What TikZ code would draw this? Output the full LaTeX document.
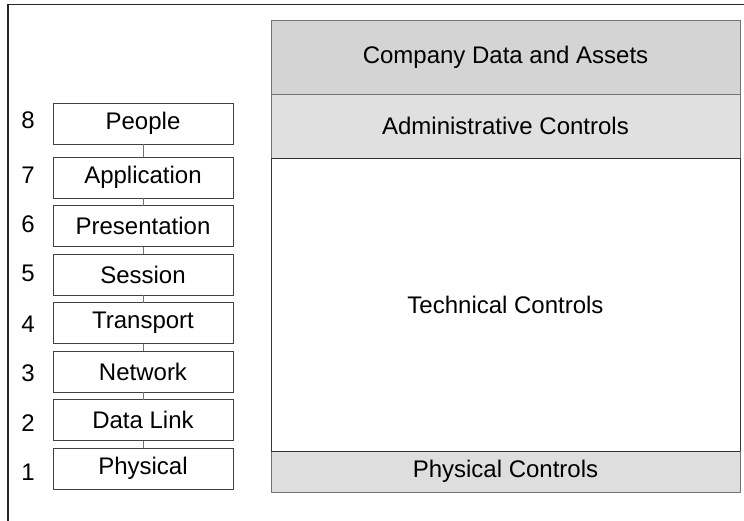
\documentclass[tikz,border=0pt]{standalone}
\usepackage{fontspec}
\setmainfont{Liberation Sans}
\usetikzlibrary{positioning}

\begin{document}
\begin{tikzpicture}[x=0.75pt,y=-0.75pt,
    txt/.style={font=\fontsize{18}{18}\selectfont},
    layer/.style={txt,draw=black!75,fill=white,minimum width=135pt,minimum height=30.75pt,inner sep=0pt,outer sep=0pt},
    ctrl/.style={txt,draw=black!55,minimum width=351.75pt,inner sep=0pt,outer sep=0pt},
    link/.style={draw=black!55}]
  \useasboundingbox (0,0) rectangle (744,521);
  % frame, open on the right and at the bottom
  \draw[line width=1.1pt,black!85] (744,4.5) -- (8,4.5) -- (8,521);

  % controls column
  \node[ctrl,fill=black!17,minimum height=55.5pt] (assets) at (505.5,57) {Company Data and Assets};
  \node[ctrl,fill=black!12,minimum height=48pt,below=0pt of assets] (admin) {Administrative Controls};
  \node[ctrl,draw=black!80,fill=white,minimum height=219.75pt,below=0pt of admin] (tech) {Technical Controls};
  \node[ctrl,fill=black!13,minimum height=30.75pt,below=0pt of tech] (phyctrl) {Physical Controls};
  \draw[black!80] (tech.south west) -- (tech.south east);

  % layers
  \node[layer] (people) at (143,123.5) {People};
  \node[layer,below=9.75pt of people] (app) {Application};
  \node[layer,below=5.625pt of app] (pres) {Presentation};
  \node[layer,below=5.625pt of pres] (sess) {Session};
  \node[layer,below=5.625pt of sess] (trans) {Transport};
  \node[layer,below=5.625pt of trans] (net) {Network};
  \node[layer,below=5.625pt of net] (dlink) {Data Link};
  \node[layer,below=5.625pt of dlink] (phys) {Physical};
  \draw[link] (people) -- (app);
  \draw[link] (app) -- (pres);
  \draw[link] (pres) -- (sess);
  \draw[link] (sess) -- (trans);
  \draw[link] (trans) -- (net);
  \draw[link] (net) -- (dlink);
  \draw[link] (dlink) -- (phys);

  % layer numbers
  \node[txt] (n8) at (28,120) {8};
  \node[txt] (n7) at (28,175) {7};
  \node[txt] (n6) at (28,224.5) {6};
  \node[txt] (n5) at (28,273.5) {5};
  \node[txt] (n4) at (28,324) {4};
  \node[txt] (n3) at (28,373) {3};
  \node[txt] (n2) at (28,423) {2};
  \node[txt] (n1) at (28,472.5) {1};
\end{tikzpicture}
\end{document}
